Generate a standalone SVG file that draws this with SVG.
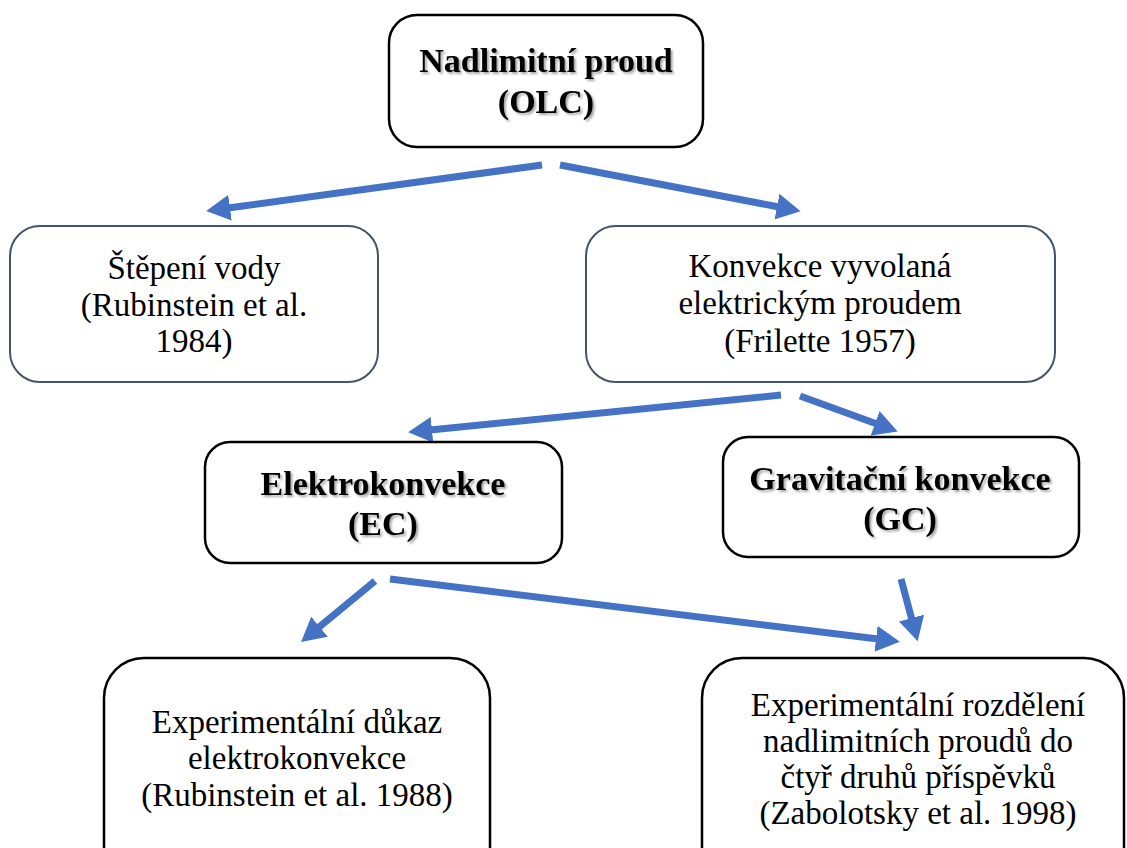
<svg xmlns="http://www.w3.org/2000/svg" width="1127" height="848" viewBox="0 0 1127 848">
<style>
.box{fill:#fff;stroke:#000;stroke-width:2.5}
.soft{fill:#fff;stroke:#44546A;stroke-width:2}
.t{font-family:"Liberation Serif","Times New Roman",serif;font-size:33px;fill:#000;text-anchor:middle}
.b{font-family:"Liberation Serif","Times New Roman",serif;font-size:34px;font-weight:bold;fill:#000;text-anchor:middle;filter:url(#sh)}
.c{stroke:#4472C4;stroke-width:7;fill:none;marker-end:url(#ah)}
</style>
<defs>
<marker id="ah" markerUnits="userSpaceOnUse" markerWidth="24" markerHeight="26" refX="2" refY="13" orient="auto">
<path d="M0,0 L24,13 L0,26 z" fill="#4472C4"/>
</marker>
<filter id="sh" x="-10%" y="-20%" width="120%" height="150%">
<feDropShadow dx="2" dy="2" stdDeviation="1.2" flood-color="#000" flood-opacity="0.35"/>
</filter>
</defs>
<rect width="1127" height="848" fill="#fff"/>
<g id="connectors">
<line class="c" x1="542" y1="165" x2="228" y2="208"/>
<line class="c" x1="560" y1="165" x2="779" y2="207"/>
<line class="c" x1="781" y1="395" x2="430" y2="430"/>
<line class="c" x1="800" y1="396" x2="877" y2="424"/>
<line class="c" x1="375" y1="581" x2="318" y2="628"/>
<line class="c" x1="390" y1="579" x2="878" y2="639"/>
<line class="c" x1="901" y1="579" x2="912" y2="620"/>
</g>
<g id="olc">
<rect class="box" x="389" y="15" width="314" height="132" rx="28"/>
<text class="b" x="546" y="72">Nadlimitní proud</text>
<text class="b" x="546" y="113">(OLC)</text>
</g>
<g id="stepeni">
<rect class="soft" x="10" y="226" width="368" height="156" rx="30"/>
<text class="t" x="194" y="279">Štěpení vody</text>
<text class="t" x="194" y="316">(Rubinstein et al.</text>
<text class="t" x="194" y="352">1984)</text>
</g>
<g id="konvekce">
<rect class="soft" x="586" y="226" width="469" height="156" rx="30"/>
<text class="t" x="820" y="277">Konvekce vyvolaná</text>
<text class="t" x="820" y="314">elektrickým proudem</text>
<text class="t" x="820" y="352">(Frilette 1957)</text>
</g>
<g id="ec">
<rect class="box" x="205" y="442" width="357" height="121" rx="25"/>
<text class="b" x="383" y="495">Elektrokonvekce</text>
<text class="b" x="383" y="535">(EC)</text>
</g>
<g id="gc">
<rect class="box" x="723" y="437" width="356" height="120" rx="25"/>
<text class="b" x="900" y="490">Gravitační konvekce</text>
<text class="b" x="900" y="530">(GC)</text>
</g>
<g id="dukaz">
<rect class="box" x="104" y="658" width="386" height="230" rx="40"/>
<text class="t" x="297" y="733">Experimentální důkaz</text>
<text class="t" x="297" y="769">elektrokonvekce</text>
<text class="t" x="297" y="806">(Rubinstein et al. 1988)</text>
</g>
<g id="rozdeleni">
<rect class="box" x="702" y="658" width="422" height="230" rx="40"/>
<text class="t" x="918" y="716">Experimentální rozdělení</text>
<text class="t" x="918" y="752">nadlimitních proudů do</text>
<text class="t" x="918" y="788">čtyř druhů příspěvků</text>
<text class="t" x="918" y="824">(Zabolotsky et al. 1998)</text>
</g>
</svg>
